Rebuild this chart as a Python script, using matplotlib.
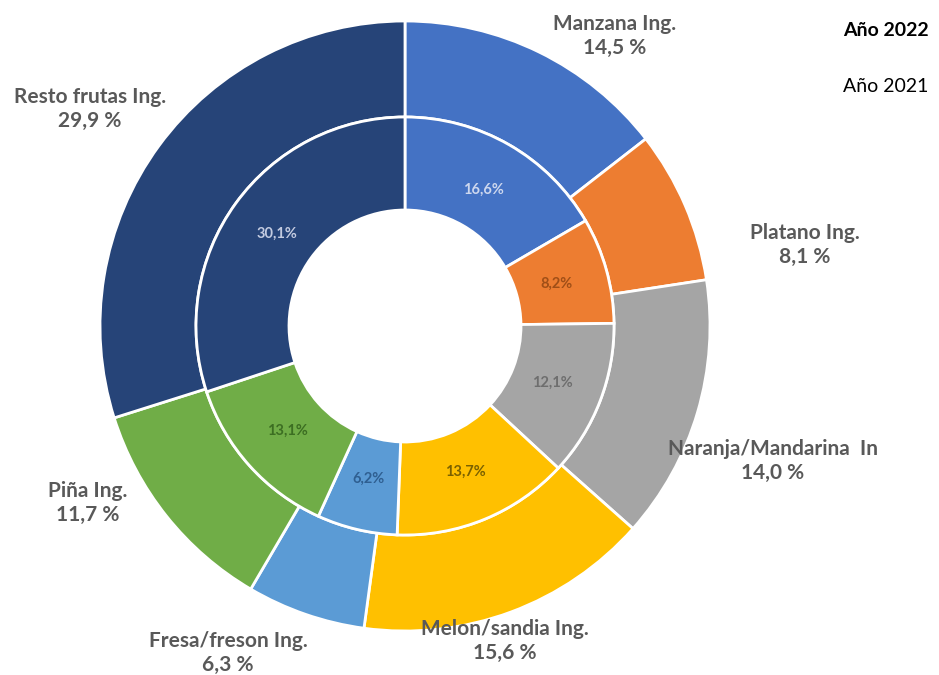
import numpy as np
import matplotlib.pyplot as plt

# ================= DATA =================

frutas = ["Manzana Ing.", "Platano Ing.", "Naranja/Mandarina  In", "Melon/sandia Ing.",
          "Fresa/freson Ing.", "Piña Ing.", "Resto frutas Ing."]
valores_2022 = [14.5, 8.1, 14.0, 15.6, 6.3, 11.7, 29.9]
valores_2021 = [16.6, 8.2, 12.1, 13.7, 6.2, 13.1, 30.1]

# ================= STYLE =================

colores = ["#4472C4", "#ED7D31", "#A5A5A5", "#FFC000", "#5B9BD5", "#70AD47", "#264478"]
colores_txt_int = ["#cdd7ee", "#a04f17", "#6e6e6e", "#7a6100", "#2f5f91", "#3c6e22", "#c3cbe0"]

W, H = 939, 675
CX, CY = 405, 326           # pie centre, pixels from top-left
R_EXT, R_INT, R_HOLE = 305, 209, 116

# outer label positions (pixels from top-left), placed by hand like in Excel
pos_etq = [(615, 36), (805, 245), (773, 461), (505, 641), (228, 653), (88, 503), (90, 109)]

plt.rcParams['font.family'] = ['Lato', 'DejaVu Sans']

fig = plt.figure(figsize=(W / 100, H / 100), dpi=100)
ax = fig.add_axes([0, 0, 1, 1])

centro = (CX, H - CY)

# outer ring: 2022
ax.pie(valores_2022, radius=R_EXT, center=centro, startangle=90, counterclock=False,
       colors=colores, wedgeprops=dict(width=R_EXT - R_INT, edgecolor="white", linewidth=2))

# inner ring: 2021
ax.pie(valores_2021, radius=R_INT, center=centro, startangle=90, counterclock=False,
       colors=colores, wedgeprops=dict(width=R_INT - R_HOLE, edgecolor="white", linewidth=2))

# inner percentages at wedge middles
tot = sum(valores_2021)
acum = np.cumsum([0] + valores_2021[:-1])
r_med = (R_INT + R_HOLE) / 2 - 5
for v, a, c in zip(valores_2021, acum, colores_txt_int):
    ang = np.deg2rad(90 - (a + v / 2) / tot * 360)
    ax.text(centro[0] + r_med * np.cos(ang), centro[1] + r_med * np.sin(ang),
            f"{v:.1f}%".replace(".", ","), ha="center", va="center",
            fontsize=10.5, color=c, fontweight="bold")

# outer labels
for nombre, v, (px, py) in zip(frutas, valores_2022, pos_etq):
    ax.text(px, H - py, nombre + "\n" + f"{v:.1f} %".replace(".", ","),
            ha="center", va="center", fontsize=15, fontweight="bold",
            color="#595959", linespacing=1.25)

# series names
ax.text(843, H - 31, "Año 2022", ha="left", va="center", fontsize=14,
        fontweight="bold", color="black")
ax.text(843, H - 86, "Año 2021", ha="left", va="center", fontsize=14, color="black")

ax.set_xlim(0, W)
ax.set_ylim(0, H)
ax.set_aspect("auto")
ax.axis("off")

fig.savefig("out.png", dpi=100)
